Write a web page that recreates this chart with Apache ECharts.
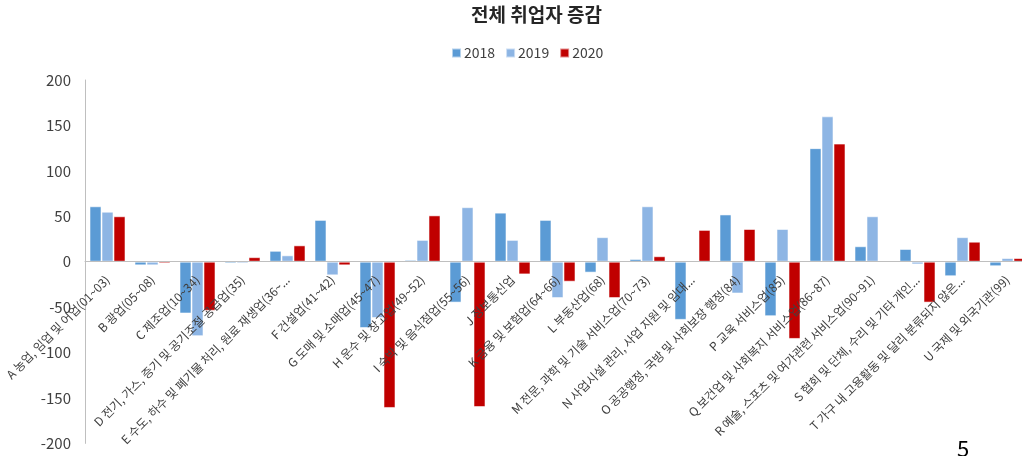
<!DOCTYPE html>
<html>
<head>
<meta charset="utf-8">
<script src="https://cdn.jsdelivr.net/npm/echarts@6/dist/echarts.min.js"></script>
<style>
  html, body { margin: 0; padding: 0; background: #fff; }
  #chart { width: 1022px; height: 456px; }
</style>
</head>
<body>
<div id="chart"></div>
<script>
// 산업별 전체 취업자 증감 (천 명)
const categories = [
  'A 농업, 임업 및 어업(01~03)',
  'B 광업(05~08)',
  'C 제조업(10~34)',
  'D 전기, 가스, 증기 및 공기조절 공급업(35)',
  'E 수도, 하수 및 폐기물 처리, 원료 재생업(36~...',
  'F 건설업(41~42)',
  'G 도매 및 소매업(45~47)',
  'H 운수 및 창고업(49~52)',
  'I 숙박 및 음식점업(55~56)',
  'J 정보통신업',
  'K 금융 및 보험업(64~66)',
  'L 부동산업(68)',
  'M 전문, 과학 및 기술 서비스업(70~73)',
  'N 사업시설 관리, 사업 지원 및 임대...',
  'O 공공행정, 국방 및 사회보장 행정(84)',
  'P 교육 서비스업(85)',
  'Q 보건업 및 사회복지 서비스업(86~87)',
  'R 예술, 스포츠 및 여가관련 서비스업(90~91)',
  'S 협회 및 단체, 수리 및 기타 개인...',
  'T 가구 내 고용활동 및 달리 분류되지 않은...',
  'U 국제 및 외국기관(99)'
];
const seriesNames = ['2018', '2019', '2020'];
const values2018 = [61, -4, -57, -2, 12, 46, -73, 2, -45, 54, 46, -12, 3, -64, 52, -60, 125, 17, 14, -16, -5];
const values2019 = [55, -4, -82, -2, 7, -15, -62, 24, 60, 24, -40, 27, 61, 0.5, -35, 36, 160, 50, -3, 27, 4];
const values2020 = [50, -2, -54, 5, 18, -4, -161, 51, -160, -14, -22, -40, 6, 35, 36, -85, 130, 0.5, -45, 22, 4];
const yTicks = { min: -200, max: 200, interval: 50 };

const colors = ['#5B9BD5', '#8DB5E4', '#C00000'];
const textColor = '#404040';
const fontFamily = '"Noto Sans CJK KR", "Noto Sans", sans-serif';

const plotTop = 80;
const plotHeight = 363.4;
// the category axis sits on the value 0 line
const zeroOffset = -((0 - yTicks.min) / (yTicks.max - yTicks.min)) * plotHeight;

function barSeries(name, data, color) {
  return {
    name: name,
    type: 'bar',
    data: data,
    barWidth: 12,
    barGap: '0%',
    itemStyle: {
      color: color,
      borderColor: 'rgba(255,255,255,0.55)',
      borderWidth: 1
    }
  };
}

const chart = echarts.init(document.getElementById('chart'), null, { renderer: 'canvas' });
chart.setOption({
  animation: false,
  backgroundColor: '#ffffff',
  textStyle: { fontFamily: fontFamily },
  title: {
    text: '전체 취업자 증감',
    left: 466,
    top: 0,
    textStyle: { fontSize: 19, fontWeight: 'bold', color: '#262626', fontFamily: fontFamily }
  },
  legend: {
    data: seriesNames,
    left: 446,
    top: 41,
    itemWidth: 9,
    itemHeight: 9,
    itemGap: 10,
    icon: 'rect',
    textStyle: { fontSize: 14, color: textColor, fontFamily: fontFamily, padding: [0, 0, 0, -2] }
  },
  grid: {
    left: 85,
    top: plotTop,
    width: 945,
    height: plotHeight,
    containLabel: false,
    outerBoundsMode: 'none'
  },
  xAxis: {
    type: 'category',
    data: categories,
    z: 10,
    offset: zeroOffset,
    axisLine: { onZero: true, onZeroAxisIndex: 0, lineStyle: { color: '#BFBFBF', width: 1 } },
    axisTick: { show: false },
    axisLabel: {
      interval: 0,
      rotate: 45,
      fontSize: 12,
      color: textColor,
      margin: 16,
      fontFamily: fontFamily
    }
  },
  yAxis: {
    type: 'value',
    min: yTicks.min,
    max: yTicks.max,
    interval: yTicks.interval,
    axisLine: { show: true, onZero: false, lineStyle: { color: '#BFBFBF', width: 1 } },
    axisTick: { show: false },
    splitLine: { show: false },
    axisLabel: {
      fontSize: 15,
      color: textColor,
      margin: 14,
      fontFamily: fontFamily
    }
  },
  series: [
    barSeries(seriesNames[0], values2018, colors[0]),
    barSeries(seriesNames[1], values2019, colors[1]),
    barSeries(seriesNames[2], values2020, colors[2])
  ],
  graphic: [{
    type: 'text',
    left: 957,
    top: 438,
    style: { text: '5', fontSize: 22, fill: '#000', fontFamily: fontFamily }
  }]
});
</script>
</body>
</html>
